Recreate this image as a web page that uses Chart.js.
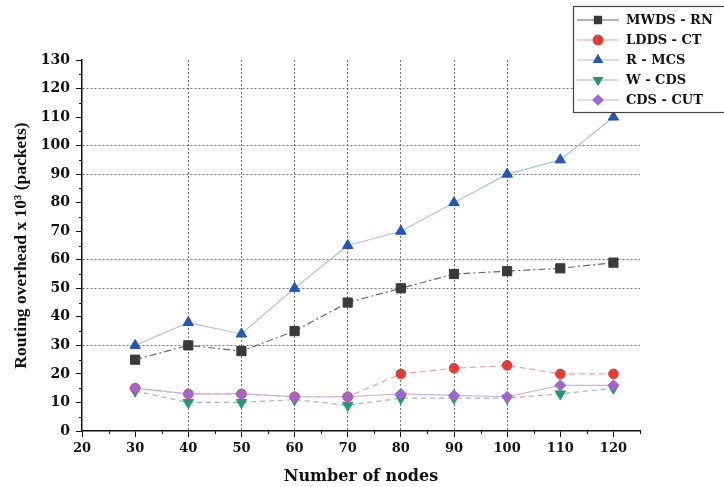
<!DOCTYPE html>
<html>
<head>
<meta charset="utf-8">
<script src="https://cdn.jsdelivr.net/npm/chart.js@4.4.1/dist/chart.umd.min.js"></script>
<style>
  html, body { margin: 0; padding: 0; background: #ffffff; }
  #wrap { width: 724px; height: 487px; position: relative; }
</style>
</head>
<body>
<div id="wrap"><canvas id="chart" width="724" height="487"></canvas></div>
<script>
// Number of nodes on the x axis
const nodes = [30, 40, 50, 60, 70, 80, 90, 100, 110, 120];

// Routing overhead (x 10^3 packets) per scheme
const mwdsRn = [25, 30, 28, 35, 45, 50, 55, 56, 57, 59];
const lddsCt = [15, 13, 13, 12, 12, 20, 22, 23, 20, 20];
const rMcs   = [30, 38, 34, 50, 65, 70, 80, 90, 95, 110];
const wCds   = [14, 10, 10, 11, 9, 11.5, 11.5, 11.5, 13, 15];
const cdsCut = [15, 13, 13, 12, 12, 13, 12.5, 12, 16, 16];

const seriesNames = ['MWDS - RN', 'LDDS - CT', 'R - MCS', 'W - CDS', 'CDS - CUT'];

// Axis tick values
const xTicks = [20, 30, 40, 50, 60, 70, 80, 90, 100, 110, 120];
const yTicks = [0, 10, 20, 30, 40, 50, 60, 70, 80, 90, 100, 110, 120, 130];
// Reference lines that are drawn dotted across the plot
const xGridShown = [40, 50, 60, 70, 80, 90, 100];
const yGridShown = [30, 50, 60, 90, 100, 120];

const SERIF = "'Liberation Serif', 'Times New Roman', serif";
const WIDE_SERIF = "'DejaVu Serif', 'Liberation Serif', serif";

function pts(values) {
  return nodes.map((n, i) => ({ x: n, y: values[i] }));
}

// marker / line look of each series; lower "order" is painted on top
const styles = [
  { marker: '#3a3a3a', line: '#6a6a6a', shape: 'rect', rot: 0, dash: [7, 3, 2, 3], r: 6.5, order: 4 },
  { marker: '#e23b36', line: '#f2a0a0', shape: 'circle', rot: 0, dash: [6, 4], r: 4.8, order: 1 },
  { marker: '#2456b4', line: '#a9c3ea', shape: 'triangle', rot: 0, dash: [], r: 6, order: 3 },
  { marker: '#1f9a78', line: '#9fb9b0', shape: 'triangle', rot: 180, dash: [5, 4], r: 6, order: 2 },
  { marker: '#a066d0', line: '#c9b2e6', shape: 'rectRot', rot: 0, dash: [], r: 5.5, order: 0 }
];

const values = [mwdsRn, lddsCt, rMcs, wCds, cdsCut];

const datasets = values.map((v, i) => ({
  label: seriesNames[i],
  data: pts(v),
  order: styles[i].order,
  showLine: true,
  borderColor: styles[i].line,
  borderWidth: 1.2,
  borderDash: styles[i].dash,
  backgroundColor: styles[i].marker,
  pointBackgroundColor: styles[i].marker,
  pointBorderColor: styles[i].marker,
  pointBorderWidth: 1,
  pointStyle: styles[i].shape,
  pointRotation: styles[i].rot,
  pointRadius: styles[i].r,
  pointHoverRadius: styles[i].r,
  tension: 0,
  fill: false
}));

// Minor ticks at the half steps, plus a boxed legend in the top right corner
const extras = {
  id: 'extras',
  afterDraw(chart) {
    const ctx = chart.ctx;
    const xs = chart.scales.x, ys = chart.scales.y;
    ctx.save();
    ctx.strokeStyle = '#111';
    ctx.lineWidth = 1;
    for (let v = 25; v <= 125; v += 10) {
      const px = Math.round(xs.getPixelForValue(v)) + 0.5;
      ctx.beginPath();
      ctx.moveTo(px, ys.bottom);
      ctx.lineTo(px, ys.bottom + 3);
      ctx.stroke();
    }
    for (let v = 5; v < 130; v += 10) {
      const py = Math.round(ys.getPixelForValue(v)) + 0.5;
      ctx.beginPath();
      ctx.moveTo(xs.left - 3, py);
      ctx.lineTo(xs.left, py);
      ctx.stroke();
    }

    // legend, listed in dataset order
    const bx = 573, by = 6, bw = 170, bh = 106;
    ctx.fillStyle = '#ffffff';
    ctx.fillRect(bx, by, bw, bh);
    ctx.strokeStyle = '#444';
    ctx.lineWidth = 1.2;
    ctx.strokeRect(bx + 0.5, by + 0.5, bw, bh);
    ctx.font = "bold 13px " + WIDE_SERIF;
    ctx.textBaseline = 'middle';
    ctx.textAlign = 'left';
    chart.data.datasets.forEach((ds, i) => {
      const ry = by + 14 + i * 20;
      ctx.strokeStyle = ds.borderColor;
      ctx.lineWidth = 1.2;
      ctx.setLineDash([]);
      ctx.beginPath();
      ctx.moveTo(bx + 4, ry);
      ctx.lineTo(bx + 46, ry);
      ctx.stroke();
      ctx.fillStyle = ds.pointBackgroundColor;
      ctx.strokeStyle = ds.pointBorderColor;
      Chart.helpers.drawPoint(ctx, {
        pointStyle: ds.pointStyle,
        rotation: ds.pointRotation,
        radius: Math.min(ds.pointRadius, 5),
        borderWidth: 1
      }, bx + 25, ry);
      ctx.fillStyle = '#111';
      ctx.fillText(ds.label, bx + 53, ry + 1);
    });
    ctx.restore();
  }
};

new Chart(document.getElementById('chart'), {
  type: 'scatter',
  data: { datasets },
  plugins: [extras],
  options: {
    responsive: false,
    animation: false,
    events: [],
    layout: { padding: { top: 60, right: 84, left: 0, bottom: 0 } },
    plugins: { legend: { display: false }, tooltip: { enabled: false } },
    scales: {
      x: {
        type: 'linear',
        min: 20,
        max: 125,
        afterBuildTicks: (s) => { s.ticks = xTicks.map(v => ({ value: v })); },
        afterFit: (s) => { s.height = 56; },
        border: { display: true, color: '#111', width: 1.5, dash: [2, 2] },
        grid: {
          drawOnChartArea: true,
          color: (c) => xGridShown.includes(c.tick && c.tick.value) ? 'rgba(70,70,70,0.75)' : 'rgba(0,0,0,0)',
          lineWidth: 1,
          tickColor: '#111',
          tickLength: 6,
          tickBorderDash: []
        },
        ticks: {
          color: '#111',
          padding: 4,
          maxRotation: 0,
          font: { family: WIDE_SERIF, size: 13, weight: 'bold' }
        },
        title: {
          display: true,
          text: 'Number of nodes',
          color: '#111',
          padding: { top: 4, bottom: 1 },
          font: { family: WIDE_SERIF, size: 16, weight: 'bold' }
        }
      },
      y: {
        type: 'linear',
        min: 0,
        max: 130,
        afterBuildTicks: (s) => { s.ticks = yTicks.map(v => ({ value: v })); },
        afterFit: (s) => { s.width = 82; },
        border: { display: true, color: '#111', width: 1.5, dash: [2, 2] },
        grid: {
          drawOnChartArea: true,
          color: (c) => yGridShown.includes(c.tick && c.tick.value) ? 'rgba(70,70,70,0.75)' : 'rgba(0,0,0,0)',
          lineWidth: 1,
          tickColor: '#111',
          tickLength: 6,
          tickBorderDash: []
        },
        ticks: {
          color: '#111',
          padding: 6,
          font: { family: WIDE_SERIF, size: 14, weight: 'bold' }
        },
        title: {
          display: true,
          text: 'Routing overhead x 10\u00B3 (packets)',
          color: '#111',
          padding: { top: 11, bottom: 0 },
          font: { family: SERIF, size: 17.5, weight: 'bold' }
        }
      }
    }
  }
});
</script>
</body>
</html>
